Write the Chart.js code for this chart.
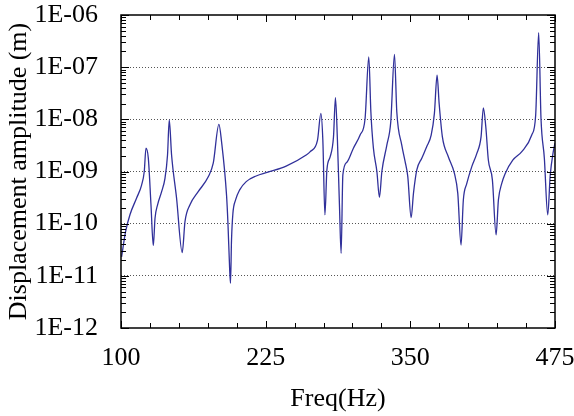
<!DOCTYPE html>
<html>
<head>
<meta charset="utf-8">
<script src="https://cdn.jsdelivr.net/npm/chart.js@4.4.1/dist/chart.umd.min.js"></script>
<style>
  html, body { margin: 0; padding: 0; background: #ffffff; }
  #wrap { width: 574px; height: 416px; }
</style>
</head>
<body>
<div id="wrap"><canvas id="c" width="574" height="416"></canvas></div>
<script>
// ---- data ----
const freq = [
  100.5, 104.0, 107.8, 113.5, 117.8, 120.1, 121.6, 123.6, 125.9, 127.9,
  129.4, 131.6, 135.1, 138.0, 140.2, 141.7, 143.7, 148.0, 152.9, 155.3,
  159.6, 166.7, 175.4, 179.7, 184.6, 186.9, 191.2, 192.4, 193.8, 194.6,
  195.5, 196.7, 199.0, 202.4, 208.2, 216.8, 226.9, 242.7, 260.0, 263.5,
  269.8, 272.7, 274.4, 276.2, 277.9, 280.7, 283.6, 285.3, 287.0, 288.8,
  290.2, 291.7, 295.2, 300.8, 306.6, 310.9, 314.1, 315.9, 318.1, 321.1,
  323.3, 325.4, 329.7, 333.1, 336.3, 338.3, 342.6, 345.5, 347.8, 350.7,
  352.7, 355.6, 359.9, 364.2, 368.0, 370.8, 373.1, 374.9, 377.7, 382.9,
  388.1, 391.0, 393.8, 395.8, 398.8, 403.1, 407.4, 411.1, 413.1, 415.2,
  417.4, 420.9, 424.1, 426.1, 429.0, 431.8, 438.5, 446.3, 454.9, 458.3,
  460.9, 462.9, 465.8, 468.7, 470.9, 473.5, 475.0
];
const amplitude = [
  2.3e-11, 7.1e-11, 1.5e-10, 3.1e-10, 5.5e-10, 1.0e-9, 2.8e-9, 1.8e-9, 2.3e-10, 3.8e-11,
  1.27e-10, 2.3e-10, 4.1e-10, 7.4e-10, 2.07e-9, 9.7e-9, 2.07e-9, 3.1e-10, 2.8e-11, 1.1e-10,
  2.3e-10, 4.1e-10, 7.9e-10, 1.44e-9, 8.0e-9, 3.7e-9, 3.5e-10, 1.03e-10, 1.5e-11, 7.2e-12,
  4.9e-11, 1.58e-10, 2.85e-10, 4.4e-10, 6.4e-10, 8.2e-10, 9.7e-10, 1.27e-9, 2.07e-9, 2.4e-9,
  4.0e-9, 1.3e-8, 4.0e-9, 1.47e-10, 1.07e-9, 1.9e-9, 4.6e-9, 2.6e-8, 4.0e-9, 2.1e-10,
  2.7e-11, 8.6e-10, 1.5e-9, 2.8e-9, 5.0e-9, 1.04e-8, 1.57e-7, 1.4e-8, 2.8e-9, 1.0e-9,
  3.2e-10, 1.0e-9, 3.2e-9, 9.0e-9, 1.75e-7, 1.4e-8, 3.2e-9, 1.54e-9, 8.0e-10, 1.3e-10,
  3.8e-10, 1.07e-9, 1.8e-9, 3.0e-9, 5.0e-9, 1.3e-8, 7.0e-8, 2.0e-8, 4.6e-9, 1.9e-9,
  9.2e-10, 3.8e-10, 3.9e-11, 2.85e-10, 5.9e-10, 1.24e-9, 2.2e-9, 4.6e-9, 1.66e-8, 7.2e-9,
  1.66e-9, 6.9e-10, 6.1e-11, 2.85e-10, 5.9e-10, 9.0e-10, 1.65e-9, 2.4e-9, 5.0e-9, 1.2e-8,
  4.6e-7, 1.04e-8, 1.8e-9, 1.47e-10, 8.6e-10, 2.4e-9, 3.5e-9
];
const xTickValues = [100, 225, 350, 475];
const xTickLabels = ['100', '225', '350', '475'];
const yTickValues = [1e-12, 1e-11, 1e-10, 1e-9, 1e-8, 1e-7, 1e-6];
const yTickLabels = ['1E-12', '1E-11', '1E-10', '1E-09', '1E-08', '1E-07', '1E-06'];
const xTitle = 'Freq(Hz)';
const yTitle = 'Displacement amplitude (m)';

// ---- chart ----
const FONT = "'Liberation Serif', 'Times New Roman', serif";

const framePlugin = {
  id: 'frameTicks',
  afterDraw(chart) {
    const {ctx, chartArea: a, scales: {x, y}} = chart;
    ctx.save();
    ctx.strokeStyle = '#000';
    ctx.lineWidth = 1;
    ctx.beginPath();
    // y minor/major ticks, both sides, inward
    for (let e = -12; e <= -6; e++) {
      for (let m = 1; m <= 9; m++) {
        const v = m * Math.pow(10, e);
        if (v < 1e-12 * 0.999 || v > 1e-6 * 1.001) continue;
        const py = Math.round(y.getPixelForValue(v)) + 0.5;
        const len = (m === 1) ? 8 : 5;
        ctx.moveTo(a.left, py); ctx.lineTo(a.left + len, py);
        ctx.moveTo(a.right, py); ctx.lineTo(a.right - len, py);
      }
    }
    // x ticks every 25 Hz, inward on bottom and top
    for (let v = 100; v <= 475; v += 25) {
      const px = Math.round(x.getPixelForValue(v)) + 0.5;
      const major = xTickValues.includes(v);
      const len = major ? 7 : 5;
      ctx.moveTo(px, a.bottom); ctx.lineTo(px, a.bottom - len);
      ctx.moveTo(px, a.top); ctx.lineTo(px, a.top + len);
    }
    ctx.stroke();
    ctx.lineWidth = 1.5;
    ctx.strokeRect(a.left, a.top, a.right - a.left, a.bottom - a.top);
    ctx.restore();
  }
};

new Chart(document.getElementById('c'), {
  type: 'line',
  data: {
    datasets: [{
      data: freq.map((f, i) => ({x: f, y: amplitude[i]})),
      borderColor: '#30309a',
      borderWidth: 1.3,
      pointRadius: 0,
      fill: false,
      cubicInterpolationMode: 'monotone'
    }]
  },
  options: {
    responsive: false,
    animation: false,
    devicePixelRatio: 1,
    layout: { padding: { left: 0, right: 19, top: 15, bottom: 0 } },
    plugins: { legend: { display: false }, tooltip: { enabled: false } },
    scales: {
      x: {
        type: 'linear',
        min: 100, max: 475,
        afterBuildTicks: s => { s.ticks = xTickValues.map(v => ({value: v})); },
        afterFit: s => { s.height = 88; s.paddingLeft = 0; s.paddingRight = 0; },
        ticks: {
          autoSkip: false, maxRotation: 0,
          padding: 15,
          color: '#000',
          font: { family: FONT, size: 26 },
          callback: (v, i) => xTickLabels[i]
        },
        grid: { display: false, drawTicks: false },
        border: { display: false },
        title: {
          display: true, text: xTitle, color: '#000',
          font: { family: FONT, size: 26 },
          padding: { top: 0, bottom: 1 }
        }
      },
      y: {
        type: 'logarithmic',
        min: 1e-12, max: 1e-6,
        afterBuildTicks: s => { s.ticks = yTickValues.map(v => ({value: v})); },
        afterFit: s => { s.width = 121; s.paddingTop = 0; s.paddingBottom = 0; },
        ticks: {
          autoSkip: false,
          padding: 23,
          color: '#000',
          font: { family: FONT, size: 26 },
          callback: (v, i) => yTickLabels[i]
        },
        grid: {
          drawTicks: false,
          lineWidth: 1,
          color: ctx => (ctx.index === 0 || ctx.index === yTickValues.length - 1) ? 'rgba(0,0,0,0)' : '#555'
        },
        border: { display: false, dash: [1, 2] },
        title: {
          display: true, text: yTitle, color: '#000',
          font: { family: FONT, size: 26 },
          padding: { top: 4, bottom: 0 }
        }
      }
    }
  },
  plugins: [framePlugin]
});
</script>
</body>
</html>
